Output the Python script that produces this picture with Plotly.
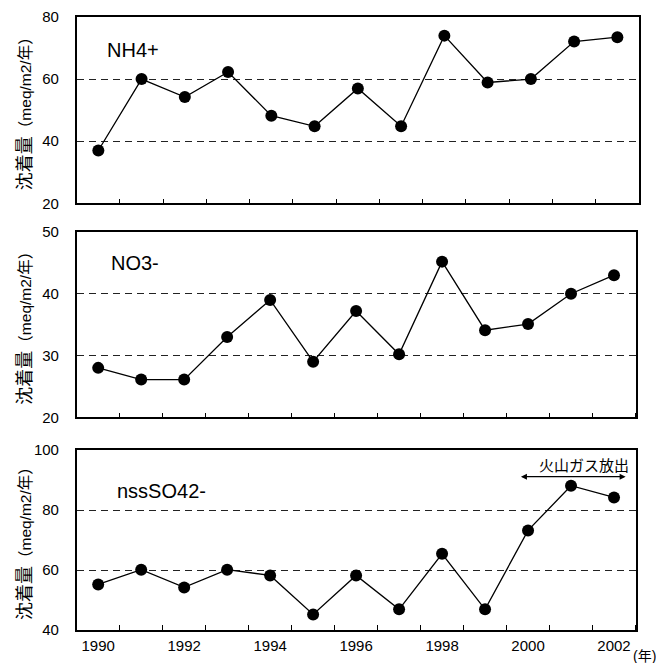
import plotly.graph_objects as go

years = list(range(1990, 2003))
nh4 = [37, 60, 54.2, 62.3, 48.2, 44.8, 57, 44.8, 74, 58.9, 60, 72.1, 73.5]
no3 = [28, 26.1, 26.1, 33, 39, 29, 37.2, 30.2, 45.2, 34.1, 35.1, 40, 43]
so4 = [55.2, 60.1, 54.2, 60.1, 58.2, 45.2, 58.2, 46.9, 65.4, 46.9, 73.2, 88.1, 84.2]
series_names = ["NH4+", "NO3-", "nssSO42-"]
y_ranges = [[20, 80], [20, 50], [40, 100]]
y_dticks = [20, 10, 20]
x_ticklabels_years = [1990, 1992, 1994, 1996, 1998, 2000, 2002]
boundaries = [y + 0.5 for y in range(1989, 2003)]
emission_label = "火山ガス放出"
ytitle = "沈着量<span style='font-size:15.5px'>（meq/m2/年）</span>"
x_unit = "(年)"

FONT = "Arial, 'Liberation Sans', 'Noto Sans CJK JP', sans-serif"

# page body has an 8px margin -> figure is drawn 8px right/down
W, H = 656, 655

fig = go.Figure()
data = [nh4, no3, so4]
for i, vals in enumerate(data):
    fig.add_trace(go.Scatter(
        x=years, y=vals, mode="lines+markers",
        line=dict(color="black", width=1.3),
        marker=dict(color="black", size=12),
        xaxis="x" if i == 0 else f"x{i+1}",
        yaxis="y" if i == 0 else f"y{i+1}",
        showlegend=False, hoverinfo="skip", cliponaxis=False,
    ))

ydomains = [[0.6961, 1.0], [0.3470, 0.6493], [0.0, 0.2936]]
xdomains = [[68.7 / W, 631 / W], [68.7 / W, 627.5 / W], [68.7 / W, 627.5 / W]]

layout = dict(
    width=W, height=H,
    margin=dict(l=0, r=0, t=9, b=33),
    paper_bgcolor="white", plot_bgcolor="white",
    font=dict(family=FONT, size=15, color="black"),
    showlegend=False,
)
for i in range(3):
    xk = "xaxis" if i == 0 else f"xaxis{i+1}"
    yk = "yaxis" if i == 0 else f"yaxis{i+1}"
    ya = "y" if i == 0 else f"y{i+1}"
    xa = "x" if i == 0 else f"x{i+1}"
    layout[xk] = dict(
        domain=xdomains[i], anchor=ya, range=[1989.5, 2002.5],
        tickmode="array", tickvals=x_ticklabels_years,
        ticktext=[str(v) for v in x_ticklabels_years],
        ticks="", showticklabels=(i == 2),
        tickfont=dict(size=15, family=FONT),
        ticklabelstandoff=1,
        showgrid=False, zeroline=False,
        showline=True, linecolor="black", linewidth=1.5, mirror=True,
        minor=dict(tickmode="array", tickvals=boundaries, ticks="inside",
                   ticklen=5, tickwidth=1, tickcolor="black", showgrid=False),
        fixedrange=True,
    )
    layout[yk] = dict(
        domain=ydomains[i], anchor=xa, range=y_ranges[i],
        tickmode="linear", tick0=y_ranges[i][0], dtick=y_dticks[i],
        ticks="", ticklabelstandoff=13,
        tickfont=dict(size=15, family=FONT),
        showgrid=True, gridcolor="#222", gridwidth=1, griddash="7px,5px",
        zeroline=False,
        showline=True, linecolor="black", linewidth=1.5, mirror=True,
        fixedrange=True,
    )

fig.update_layout(**layout)

annotations = []
label_pos = [(1990.15, 69.5), (1990.24, 45.0), (1990.38, 86.2)]
for i, name in enumerate(series_names):
    xa = "x" if i == 0 else f"x{i+1}"
    ya = "y" if i == 0 else f"y{i+1}"
    annotations.append(dict(
        text=name, x=label_pos[i][0], y=label_pos[i][1], xref=xa, yref=ya,
        xanchor="left", yanchor="middle", showarrow=False,
        font=dict(size=20, family=FONT),
    ))
    d = ydomains[i]
    annotations.append(dict(
        text=ytitle, x=17 / W, y=(d[0] + d[1]) / 2, xref="paper", yref="paper",
        xanchor="center", yanchor="middle", textangle=-90, showarrow=False,
        font=dict(size=18, family=FONT),
    ))

# emission period arrow
annotations.append(dict(
    x=2002.27, y=91.1, ax=1999.8, ay=91.1, xref="x3", yref="y3",
    axref="x3", ayref="y3", text="", showarrow=True,
    arrowhead=2, startarrowhead=2, arrowside="end+start",
    arrowsize=1, arrowwidth=1.2, arrowcolor="black",
))
annotations.append(dict(
    text=emission_label, x=2001.3, y=94.8, xref="x3", yref="y3",
    xanchor="center", yanchor="middle", showarrow=False,
    font=dict(size=15, family=FONT),
))
annotations.append(dict(
    text=x_unit, x=650 / W, y=(622 - 648) / 613, xref="paper", yref="paper",
    xanchor="right", yanchor="middle", showarrow=False,
    font=dict(size=14, family=FONT),
))
fig.update_layout(annotations=annotations)

fig.write_html("out.html")
